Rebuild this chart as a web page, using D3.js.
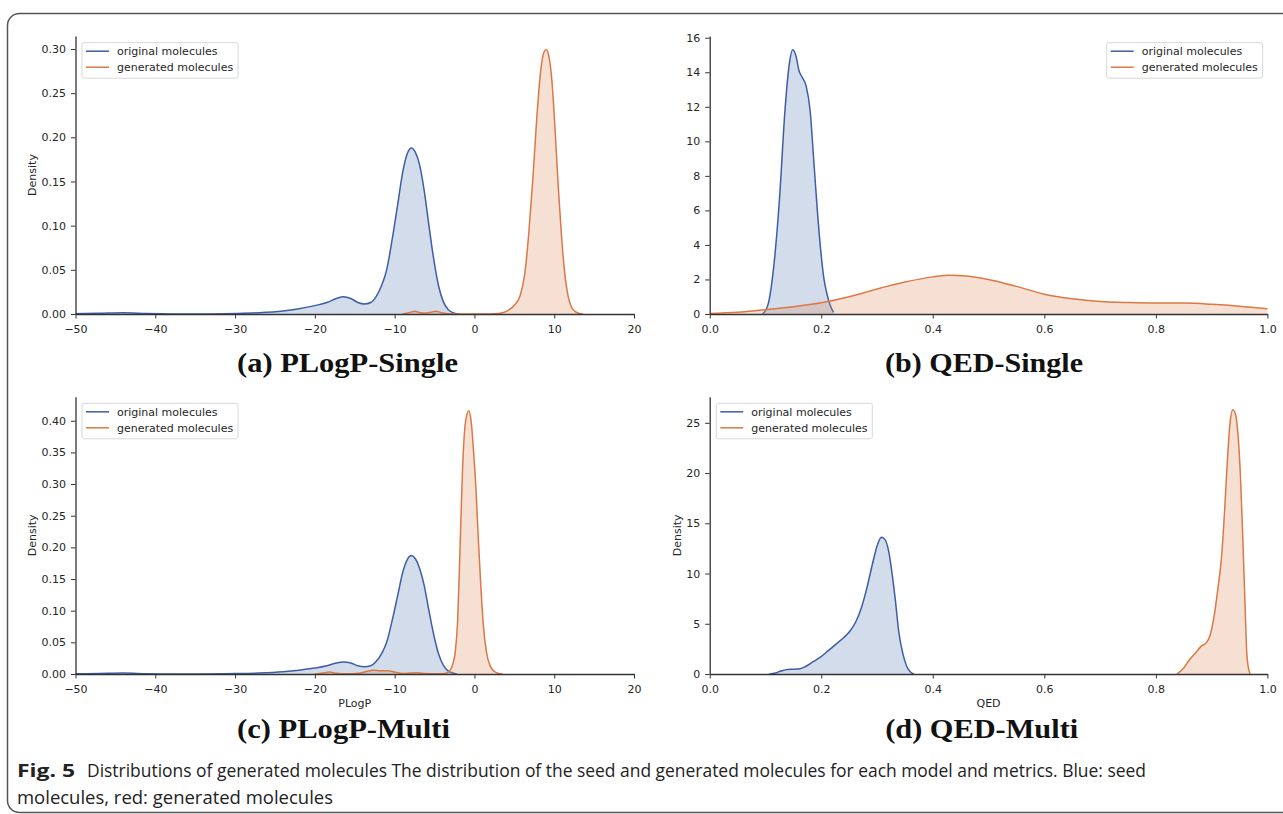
<!DOCTYPE html>
<html lang="en">
<head>
<meta charset="UTF-8">
<title>Distributions of generated molecules</title>
<script src="https://d3js.org/d3.v7.min.js"></script>
<style>
    body { margin: 0; background: #fff; }
    svg { display: block; }
    .tick text, .axis-label, .legend-text {
        font-family: "DejaVu Sans", sans-serif;
        font-size: 11px;
        fill: #262626;
    }
    .panel-title {
        font-family: "Liberation Serif", "Times New Roman", serif;
        font-weight: bold;
        font-size: 27px;
        fill: #111;
    }
    .caption {
        font-family: "Open Sans", sans-serif;
        font-size: 18.5px;
        fill: #222;
    }
</style>
</head>
<body>
<svg width="1283" height="814"></svg>
<script>
    // series names and axis ticks
    const seriesNames = ["original molecules", "generated molecules"];
    const plogpTicks = [-50, -40, -30, -20, -10, 0, 10, 20];
    const qedTicks = [0.0, 0.2, 0.4, 0.6, 0.8, 1.0];
    const plogpSingleYTicks = [0, 0.05, 0.10, 0.15, 0.20, 0.25, 0.30];
    const qedSingleYTicks = [0, 2, 4, 6, 8, 10, 12, 14, 16];
    const plogpMultiYTicks = [0, 0.05, 0.10, 0.15, 0.20, 0.25, 0.30, 0.35, 0.40];
    const qedMultiYTicks = [0, 5, 10, 15, 20, 25];

    // density curves: [x, density]
    const plogpSingleOriginal = [[-50,0.0003],[-47,0.0008],[-44,0.0015],[-41,0.0005],[-38,0.0001],[-34,0.0001],
        [-30,0.0006],[-27,0.0015],[-24,0.0035],[-22,0.006],[-20,0.0095],[-18.5,0.013],[-17.3,0.0175],[-16.4,0.0195],
        [-15.5,0.0175],[-14.6,0.013],[-13.8,0.0113],[-13,0.013],[-12.3,0.02],[-11.6,0.033],[-11,0.05],[-10.3,0.085],
        [-9.6,0.125],[-9,0.16],[-8.4,0.182],[-7.9,0.188],[-7.4,0.183],[-6.9,0.17],[-6.3,0.14],[-5.7,0.1],
        [-5.1,0.062],[-4.5,0.032],[-3.9,0.014],[-3.3,0.005],[-2.7,0.0015],[-2,0]];
    const plogpSingleGenerated = [[-9,0],[-8.2,0.0015],[-7.5,0.003],[-6.8,0.0015],[-6.2,0.001],[-5.5,0.002],
        [-4.8,0.003],[-4.1,0.0015],[-3.3,0.0003],[-2,0],[0,0],[2,0],[3,0.0005],[4,0.003],[5,0.01],[5.7,0.02],
        [6.3,0.045],[6.8,0.09],[7.3,0.15],[7.8,0.22],[8.3,0.275],[8.7,0.296],[9.0,0.299],[9.3,0.293],[9.7,0.265],
        [10.1,0.21],[10.5,0.145],[10.9,0.09],[11.3,0.048],[11.7,0.022],[12.1,0.009],[12.6,0.003],[13.2,0.0005],[13.6,0]];

    const qedSingleOriginal = [[0.095,0],[0.105,0.6],[0.115,2.8],[0.125,6.6],[0.135,11.8],[0.142,14.3],[0.149,15.3],
        [0.155,14.9],[0.16,14.1],[0.166,13.7],[0.173,13.2],[0.18,11.8],[0.187,8.7],[0.193,6],[0.199,3.7],[0.205,2],
        [0.21,1.2],[0.216,0.5],[0.222,0.1]];
    const qedSingleGenerated = [[0,0.03],[0.05,0.1],[0.1,0.25],[0.15,0.42],[0.2,0.65],[0.25,1.0],[0.3,1.45],
        [0.35,1.85],[0.4,2.15],[0.43,2.24],[0.46,2.2],[0.5,2.0],[0.55,1.6],[0.6,1.15],[0.65,0.88],[0.7,0.72],
        [0.75,0.66],[0.8,0.64],[0.85,0.63],[0.9,0.56],[0.95,0.45],[1.0,0.3]];

    const plogpMultiOriginal = [[-50,0.0003],[-47,0.0008],[-44,0.0015],[-41,0.0005],[-38,0.0001],[-34,0.0001],
        [-30,0.0006],[-27,0.0015],[-24,0.0035],[-22,0.006],[-20,0.0095],[-18.5,0.013],[-17.3,0.0175],[-16.4,0.019],
        [-15.5,0.0175],[-14.6,0.013],[-13.8,0.0116],[-13,0.013],[-12.3,0.02],[-11.6,0.033],[-11,0.05],[-10.3,0.085],
        [-9.6,0.125],[-9,0.16],[-8.4,0.181],[-7.9,0.187],[-7.4,0.182],[-6.9,0.168],[-6.3,0.14],[-5.7,0.1],
        [-5.1,0.062],[-4.5,0.032],[-3.9,0.014],[-3.3,0.005],[-2.7,0.0015],[-2.2,0]];
    const plogpMultiGenerated = [[-20,0],[-19,0.0015],[-18.2,0.003],[-17.3,0.001],[-16,0.0002],[-14.5,0.001],
        [-13.5,0.004],[-12.7,0.006],[-11.8,0.005],[-10.8,0.0052],[-10,0.003],[-9,0.0008],[-8,0.0015],[-7.2,0.002],
        [-6.2,0.0008],[-5,0.0002],[-4,0.0003],[-3.4,0.002],[-3,0.007],[-2.7,0.016],[-2.4,0.035],[-2.1,0.085],
        [-1.8,0.2],[-1.5,0.32],[-1.1,0.4],[-0.7,0.416],[-0.4,0.398],[-0.1,0.35],[0.2,0.29],[0.5,0.21],[0.8,0.14],
        [1.1,0.08],[1.5,0.035],[2,0.012],[2.5,0.004],[3,0.001],[3.5,0]];

    const qedMultiOriginal = [[0.107,0],[0.118,0.1],[0.128,0.3],[0.14,0.46],[0.152,0.48],[0.162,0.52],[0.172,0.75],
        [0.185,1.2],[0.199,1.7],[0.212,2.3],[0.225,2.9],[0.24,3.6],[0.252,4.3],[0.262,5.2],[0.272,6.6],[0.282,8.6],
        [0.292,11],[0.301,12.9],[0.308,13.6],[0.314,13.4],[0.321,12.2],[0.327,10],[0.333,7.3],[0.339,4.2],
        [0.346,2.1],[0.353,0.8],[0.36,0.2],[0.366,0]];
    const qedMultiGenerated = [[0.838,0],[0.85,0.6],[0.86,1.4],[0.871,2.1],[0.882,2.8],[0.89,3.1],[0.897,3.8],
        [0.904,5.6],[0.911,8.4],[0.918,11.8],[0.923,16],[0.928,21],[0.933,25],[0.938,26.3],[0.943,25.8],
        [0.948,23.3],[0.952,19.3],[0.956,13.3],[0.96,6.7],[0.963,2.1],[0.966,0.6],[0.969,0]];

    const panelTitles = ["(a) PLogP-Single", "(b) QED-Single", "(c) PLogP-Multi", "(d) QED-Multi"];
    const captionBold = "Fig. 5";
    const captionLine1 = "Distributions of generated molecules The distribution of the seed and generated molecules for each model and metrics. Blue: seed";
    const captionLine2 = "molecules, red: generated molecules";

    const colors = { stroke: ["#3d5ea6", "#dc7844"], fill: ["#4c72b0", "#dd8452"] };

    const panels = [
        { x0: 75.5, x1: 634, y0: 314, y1: 36, xDomain: [-50, 20], yMax: 0.3147,
          xTicks: plogpTicks, yTicks: plogpSingleYTicks, xFmt: "d", yFmt: ".2f",
          series: [plogpSingleOriginal, plogpSingleGenerated], title: panelTitles[0],
          titleX: 347.5, titleY: 372, titleW: 221, legendX: 82, legendY: 42.7,
          yLabelX: 36, xLabel: null },
        { x0: 709.7, x1: 1267.4, y0: 314, y1: 36, xDomain: [0, 1], yMax: 16.1,
          xTicks: qedTicks, yTicks: qedSingleYTicks, xFmt: ".1f", yFmt: "d",
          series: [qedSingleOriginal, qedSingleGenerated], title: panelTitles[1],
          titleX: 984, titleY: 372, titleW: 198, legendX: 1106.7, legendY: 42.7,
          yLabelX: null, xLabel: null },
        { x0: 75.5, x1: 634, y0: 674, y1: 396.7, xDomain: [-50, 20], yMax: 0.438,
          xTicks: plogpTicks, yTicks: plogpMultiYTicks, xFmt: "d", yFmt: ".2f",
          series: [plogpMultiOriginal, plogpMultiGenerated], title: panelTitles[2],
          titleX: 343.5, titleY: 738, titleW: 213, legendX: 82, legendY: 403.3,
          yLabelX: 36, xLabel: "PLogP" },
        { x0: 709.7, x1: 1267.4, y0: 674, y1: 396.7, xDomain: [0, 1], yMax: 27.6,
          xTicks: qedTicks, yTicks: qedMultiYTicks, xFmt: ".1f", yFmt: "d",
          series: [qedMultiOriginal, qedMultiGenerated], title: panelTitles[3],
          titleX: 981.7, titleY: 738, titleW: 193, legendX: 716.3, legendY: 403.3,
          yLabelX: 681, xLabel: "QED" }
    ];

    const svg = d3.select("svg");

    // rounded frame around the figure
    svg.append("rect")
        .attr("x", 7.5).attr("y", 13.5)
        .attr("width", 1300).attr("height", 799)
        .attr("rx", 12)
        .attr("fill", "none")
        .attr("stroke", "#555")
        .attr("stroke-width", 1.5);

    panels.forEach(function (p) {
        const x = d3.scaleLinear().domain(p.xDomain).range([p.x0, p.x1]);
        const y = d3.scaleLinear().domain([0, p.yMax]).range([p.y0, p.y1]);
        const g = svg.append("g");

        const area = d3.area()
            .x(function (d) { return x(d[0]); })
            .y0(y(0))
            .y1(function (d) { return y(d[1]); })
            .curve(d3.curveMonotoneX);
        const line = d3.line()
            .x(function (d) { return x(d[0]); })
            .y(function (d) { return y(d[1]); })
            .curve(d3.curveMonotoneX);

        p.series.forEach(function (s, i) {
            g.append("path").datum(s)
                .attr("d", area)
                .attr("fill", colors.fill[i])
                .attr("fill-opacity", 0.25);
            g.append("path").datum(s)
                .attr("d", line)
                .attr("fill", "none")
                .attr("stroke", colors.stroke[i])
                .attr("stroke-width", 1.5);
        });

        const xAxis = g.append("g")
            .attr("transform", "translate(0," + p.y0 + ")")
            .call(d3.axisBottom(x).tickValues(p.xTicks).tickFormat(d3.format(p.xFmt))
                .tickSize(4.5).tickPadding(7).tickSizeOuter(0));
        const yAxis = g.append("g")
            .attr("transform", "translate(" + p.x0 + ",0)")
            .call(d3.axisLeft(y).tickValues(p.yTicks).tickFormat(d3.format(p.yFmt))
                .tickSize(4.5).tickPadding(5).tickSizeOuter(0));
        [xAxis, yAxis].forEach(function (a) {
            a.select(".domain").attr("stroke", "#333").attr("stroke-width", 1.3);
            a.selectAll(".tick line").attr("stroke", "#333").attr("stroke-width", 1);
            a.selectAll(".tick text").attr("font-family", null).attr("font-size", null);
        });

        if (p.yLabelX !== null) {
            g.append("text")
                .attr("class", "axis-label")
                .attr("transform", "translate(" + p.yLabelX + "," + ((p.y0 + p.y1) / 2) + ") rotate(-90)")
                .attr("text-anchor", "middle")
                .text("Density");
        }
        if (p.xLabel) {
            g.append("text")
                .attr("class", "axis-label")
                .attr("x", (p.x0 + p.x1) / 2)
                .attr("y", p.y0 + 33)
                .attr("text-anchor", "middle")
                .text(p.xLabel);
        }

        // legend
        const lg = g.append("g").attr("transform", "translate(" + p.legendX + "," + p.legendY + ")");
        lg.append("rect")
            .attr("width", 156).attr("height", 35.5).attr("rx", 2)
            .attr("fill", "#fff").attr("fill-opacity", 0.85)
            .attr("stroke", "#d8d8d8");
        seriesNames.forEach(function (name, i) {
            const ry = 8.5 + i * 16;
            lg.append("line")
                .attr("x1", 4).attr("x2", 27).attr("y1", ry).attr("y2", ry)
                .attr("stroke", colors.stroke[i]).attr("stroke-width", 1.5);
            lg.append("text")
                .attr("class", "legend-text")
                .attr("x", 35).attr("y", ry).attr("dy", "0.35em")
                .text(name);
        });

        svg.append("text")
            .attr("class", "panel-title")
            .attr("x", p.titleX - p.titleW / 2)
            .attr("y", p.titleY)
            .attr("textLength", p.titleW)
            .attr("lengthAdjust", "spacingAndGlyphs")
            .text(p.title);
    });

    // caption
    svg.append("text")
        .attr("class", "caption")
        .attr("x", 17).attr("y", 777)
        .attr("font-weight", "bold")
        .attr("textLength", 58).attr("lengthAdjust", "spacingAndGlyphs")
        .text(captionBold);
    svg.append("text")
        .attr("class", "caption")
        .attr("x", 87).attr("y", 777)
        .attr("textLength", 1059).attr("lengthAdjust", "spacingAndGlyphs")
        .text(captionLine1);
    svg.append("text")
        .attr("class", "caption")
        .attr("x", 17).attr("y", 804)
        .attr("textLength", 316).attr("lengthAdjust", "spacingAndGlyphs")
        .text(captionLine2);
</script>
</body>
</html>
